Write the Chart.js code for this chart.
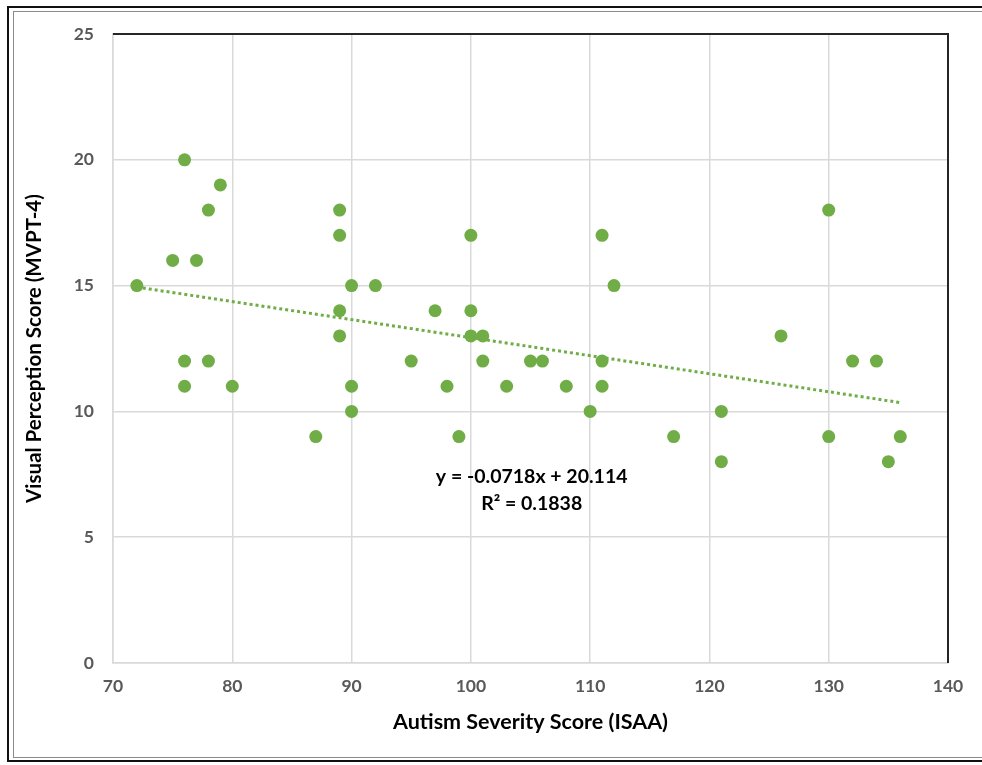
<!DOCTYPE html>
<html>
<head>
<meta charset="utf-8">
<title>Visual Perception vs Autism Severity</title>
<script src="https://cdn.jsdelivr.net/npm/chart.js@4/dist/chart.umd.min.js"></script>
<style>
    html, body { margin: 0; padding: 0; background: #fff; }
    body { width: 982px; height: 765px; position: relative; overflow: hidden; }
    .frame-outer { position: absolute; left: 7px; top: 6px; width: 1000px; height: 752px; border: 2.5px solid #111; }
    .frame-inner { position: absolute; left: 13px; top: 11px; width: 1000px; height: 745px; border: 1.5px solid #8a8a8a; }
    #chart { position: absolute; left: 0; top: 0; }
</style>
</head>
<body>
<div class="frame-outer"></div>
<div class="frame-inner"></div>
<canvas id="chart" width="982" height="765"></canvas>
<script>
// ISAA score (x) vs MVPT-4 score (y)
const isaaScores = [72, 75, 76, 76, 76, 77, 78, 78, 79, 80,
                    87, 89, 89, 89, 89, 90, 90, 90, 92, 95,
                    97, 98, 99, 100, 100, 100, 101, 101, 103, 105,
                    106, 108, 110, 111, 111, 111, 112, 117, 121, 121,
                    126, 130, 130, 132, 134, 135, 136];
const mvptScores = [15, 16, 20, 12, 11, 16, 18, 12, 19, 11,
                    9, 18, 17, 14, 13, 15, 11, 10, 15, 12,
                    14, 11, 9, 17, 14, 13, 13, 12, 11, 12,
                    12, 11, 10, 17, 12, 11, 15, 9, 10, 8,
                    13, 18, 9, 12, 12, 8, 9];

// linear trendline ends (y = -0.0718x + 20.114)
const trendX = [72, 136];
const trendY = [14.94, 10.35];
const trendLabel = ['y = -0.0718x + 20.114', 'R² = 0.1838'];

const GREEN = '#70ad47';
const GRID = '#d9d9d9';
const TICK_COLOR = '#595959';
const FONT = 'Lato, "Open Sans", sans-serif';

const points = isaaScores.map((x, i) => ({ x: x, y: mvptScores[i] }));
const trend = trendX.map((x, i) => ({ x: x, y: trendY[i] }));

// dark border on top and right of plot area + trendline equation
const plotExtras = {
    id: 'plotExtras',
    afterDraw(chart) {
        const { ctx, chartArea, scales } = chart;
        ctx.save();
        ctx.strokeStyle = '#262626';
        ctx.lineWidth = 2;
        ctx.beginPath();
        ctx.moveTo(chartArea.left, chartArea.top);
        ctx.lineTo(chartArea.right, chartArea.top);
        ctx.lineTo(chartArea.right, chartArea.bottom);
        ctx.stroke();

        ctx.fillStyle = '#000';
        ctx.font = 'bold 19.5px ' + FONT;
        ctx.textAlign = 'center';
        ctx.textBaseline = 'middle';
        const tx = scales.x.getPixelForValue(105.1);
        ctx.fillText(trendLabel[0], tx, scales.y.getPixelForValue(7.4));
        ctx.fillText(trendLabel[1], tx, scales.y.getPixelForValue(6.35));
        ctx.restore();
    }
};

new Chart(document.getElementById('chart'), {
    type: 'scatter',
    data: {
        datasets: [
            {
                label: 'MVPT-4',
                data: points,
                backgroundColor: GREEN,
                borderColor: GREEN,
                pointRadius: 6.5,
                pointHoverRadius: 6.5,
                borderWidth: 0
            },
            {
                label: 'Linear trend',
                type: 'line',
                data: trend,
                borderColor: GREEN,
                borderWidth: 3,
                borderDash: [3, 3],
                pointRadius: 0,
                fill: false
            }
        ]
    },
    options: {
        responsive: false,
        animation: false,
        layout: { padding: { top: 34, right: 34, left: 0, bottom: 0 } },
        plugins: {
            legend: { display: false },
            tooltip: { enabled: false }
        },
        scales: {
            x: {
                type: 'linear',
                min: 70,
                max: 140,
                afterFit(scale) { scale.height = 102; },
                ticks: {
                    stepSize: 10,
                    padding: 13,
                    color: TICK_COLOR,
                    font: { family: FONT, size: 17.5, weight: 'bold' }
                },
                grid: { color: GRID, lineWidth: 1.5, drawTicks: false },
                border: { color: GRID, width: 1.5 },
                title: {
                    display: true,
                    text: 'Autism Severity Score (ISAA)',
                    color: '#000',
                    font: { family: FONT, size: 21.5, weight: 'bold' },
                    padding: { top: 0, bottom: 30 }
                }
            },
            y: {
                min: 0,
                max: 25,
                afterFit(scale) { scale.width = 113; },
                ticks: {
                    stepSize: 5,
                    padding: 19,
                    color: TICK_COLOR,
                    font: { family: FONT, size: 17.5, weight: 'bold' }
                },
                grid: { color: GRID, lineWidth: 1.5, drawTicks: false },
                border: { color: GRID, width: 1.5 },
                title: {
                    display: true,
                    text: 'Visual Perception Score (MVPT-4)',
                    color: '#000',
                    font: { family: FONT, size: 20.5, weight: 'bold' },
                    padding: { top: 22, bottom: 0 }
                }
            }
        }
    },
    plugins: [plotExtras]
});
</script>
</body>
</html>
